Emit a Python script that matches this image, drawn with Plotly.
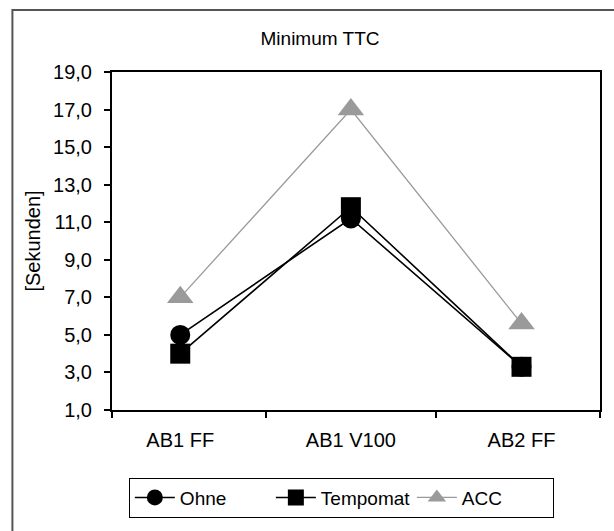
import plotly.graph_objects as go

# Scenarios on the x axis and minimum time-to-collision per assistance mode
scenarios = ["AB1 FF", "AB1 V100", "AB2 FF"]
ohne = [5.0, 11.2, 3.3]
tempomat = [4.0, 11.8, 3.3]
acc = [7.0, 17.0, 5.6]

y_ticks = [1, 3, 5, 7, 9, 11, 13, 15, 17, 19]

FONT = "Liberation Sans, Arial, sans-serif"
FS = 20
pos = list(range(len(scenarios)))

fig = go.Figure()

fig.add_trace(go.Scatter(
    x=pos, y=ohne, name="Ohne", mode="lines+markers",
    line=dict(color="#000000", width=1.6),
    marker=dict(symbol="circle", size=20, color="#000000"),
))
fig.add_trace(go.Scatter(
    x=pos, y=tempomat, name="Tempomat", mode="lines+markers",
    line=dict(color="#000000", width=1.6),
    marker=dict(symbol="square", size=20, color="#000000"),
))
fig.add_trace(go.Scatter(
    x=pos, y=acc, name="ACC", mode="lines+markers",
    line=dict(color="#9a9a9a", width=1.3),
    marker=dict(symbol="triangle-up", size=23, color="#9a9a9a"),
))

fig.update_layout(
    width=614, height=531,
    margin=dict(l=112, r=12, t=72, b=121),
    paper_bgcolor="white", plot_bgcolor="white",
    separators=",.",
    font=dict(family=FONT, size=FS, color="#000000"),
    title=dict(text="Minimum TTC", font=dict(size=19, color="#000000"),
               x=320 / 614, xref="container", xanchor="center",
               y=1 - 38 / 531, yref="container", yanchor="middle"),
    showlegend=True,
    legend=dict(orientation="h", x=0.47, xanchor="center", y=-0.2, yanchor="top",
                bordercolor="#000000", borderwidth=1, bgcolor="white",
                font=dict(size=19), itemwidth=40, entrywidth=86,
                tracegroupgap=0),
    hovermode=False,
)

fig.update_xaxes(
    range=[-0.40, 2.46],
    tickmode="array", tickvals=pos, ticktext=scenarios,
    ticks="", ticklabelstandoff=11,
    showgrid=False, zeroline=False,
    showline=True, linecolor="#000000", linewidth=2, mirror=True,
    tickfont=dict(size=FS),
    minor=dict(tickmode="array", tickvals=[-0.40, 0.5, 1.5, 2.46],
               ticks="outside", ticklen=6, tickwidth=1.5, tickcolor="#000000",
               showgrid=False),
)

fig.update_yaxes(
    range=[1, 19],
    tickmode="array", tickvals=y_ticks, tickformat=".1f",
    ticks="outside", ticklen=6, tickwidth=1.5, tickcolor="#000000",
    ticklabelstandoff=8,
    showgrid=False, zeroline=False,
    showline=True, linecolor="#000000", linewidth=2, mirror=True,
    tickfont=dict(size=FS),
    title=dict(text="[Sekunden]", font=dict(size=FS), standoff=7),
)

# Outer chart frame (top and left edges inside the page)
fig.add_shape(type="rect", xref="paper", yref="paper",
              x0=(12 - 112) / 490, x1=1.2,
              y0=-0.5, y1=(410 - 10) / 338,
              line=dict(color="#555555", width=2), fillcolor="rgba(0,0,0,0)",
              layer="below")

fig.write_html("out.html")
